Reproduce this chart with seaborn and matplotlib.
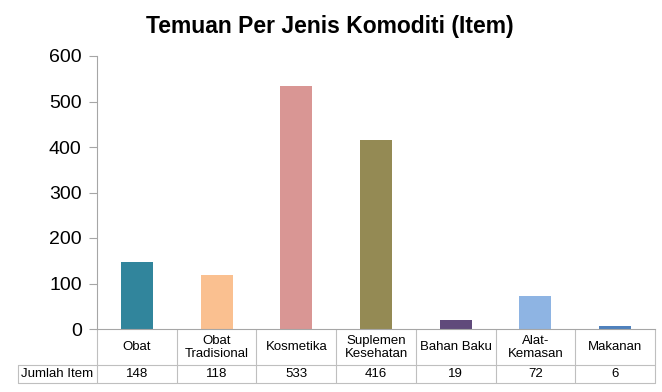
import matplotlib
matplotlib.use("Agg")
import matplotlib.pyplot as plt
import matplotlib.transforms as mtransforms
import seaborn as sns
import pandas as pd

categories = ["Obat", "Obat\nTradisional", "Kosmetika", "Suplemen\nKesehatan", "Bahan Baku", "Alat-\nKemasan", "Makanan"]
values = [148, 118, 533, 416, 19, 72, 6]
colors = ["#31859C", "#FAC090", "#D99694", "#948A54", "#604A7B", "#8EB4E3", "#4F81BD"]
row_label = "Jumlah Item"
title = "Temuan Per Jenis Komoditi (Item)"
yticks = [0, 100, 200, 300, 400, 500, 600]

sns.set_theme(style="white")
plt.rcParams["font.family"] = ["Liberation Sans", "DejaVu Sans"]
plt.rcParams["text.color"] = "black"
plt.rcParams["ytick.labelcolor"] = "black"

W, H = 662, 392
fig = plt.figure(figsize=(W / 100, H / 100), dpi=100)
x0, x1 = 97, 655
y_top, y_zero = 56, 329
ax = fig.add_axes([x0 / W, (H - y_zero) / H, (x1 - x0) / W, (y_zero - y_top) / H])

df = pd.DataFrame({"cat": categories, "val": values})
sns.barplot(data=df, x="cat", y="val", hue="cat", palette=colors, width=0.4,
            legend=False, ax=ax, saturation=1, linewidth=0)
ax.set_xlim(-0.5, len(categories) - 0.5)
ax.set_ylim(0, 600)
ax.set_yticks(yticks)
ax.set_yticklabels([str(t) for t in yticks], fontsize=14, color="black")
ax.tick_params(axis="y", length=6, width=0.8, color="#A6A6A6", direction="out", pad=5, left=True)
ax.set_xticks([])
ax.set_xlabel("")
ax.set_ylabel("")
for s in ["top", "right"]:
    ax.spines[s].set_visible(False)
ax.spines["left"].set_color("#A6A6A6")
ax.spines["bottom"].set_color("#A6A6A6")
ax.spines["left"].set_linewidth(0.8)
ax.spines["bottom"].set_linewidth(0.8)

fig.text(330 / W, 1 - 26 / H, title, ha="center", va="center", fontsize=16.5,
         fontweight="bold", color="black")

# data table below
trans = mtransforms.blended_transform_factory(ax.transData, fig.transFigure)
def fy(py):
    return (H - py) / H
r1_top, r1_bot, r2_bot = 329, 365, 383
lc = "#BFBFBF"
n = len(categories)
for i in range(n + 1):
    ax.plot([i - 0.5, i - 0.5], [fy(r1_top), fy(r2_bot)], transform=trans, color=lc, lw=0.8, clip_on=False)
ax.plot([-0.5, n - 0.5], [fy(r1_bot), fy(r1_bot)], transform=trans, color=lc, lw=0.8, clip_on=False)
ax.plot([-0.5, n - 0.5], [fy(r2_bot), fy(r2_bot)], transform=trans, color=lc, lw=0.8, clip_on=False)
fig.add_artist(plt.Line2D([18 / W, x0 / W], [fy(r1_bot), fy(r1_bot)], color=lc, lw=0.8))
fig.add_artist(plt.Line2D([18 / W, x0 / W], [fy(r2_bot), fy(r2_bot)], color=lc, lw=0.8))
fig.add_artist(plt.Line2D([18 / W, 18 / W], [fy(r1_bot), fy(r2_bot)], color=lc, lw=0.8))
fig.text((18 + x0) / 2 / W, fy((r1_bot + r2_bot) / 2), row_label, ha="center", va="center",
         fontsize=9.5, color="black")

for i, (c, v) in enumerate(zip(categories, values)):
    ax.text(i, fy((r1_top + r1_bot) / 2 + 0.5), c, transform=trans, ha="center", va="center",
            fontsize=9.5, linespacing=1.15, color="black")
    ax.text(i, fy((r1_bot + r2_bot) / 2), str(v), transform=trans, ha="center", va="center",
            fontsize=9.5, color="black")

fig.savefig("out.png", dpi=100)
